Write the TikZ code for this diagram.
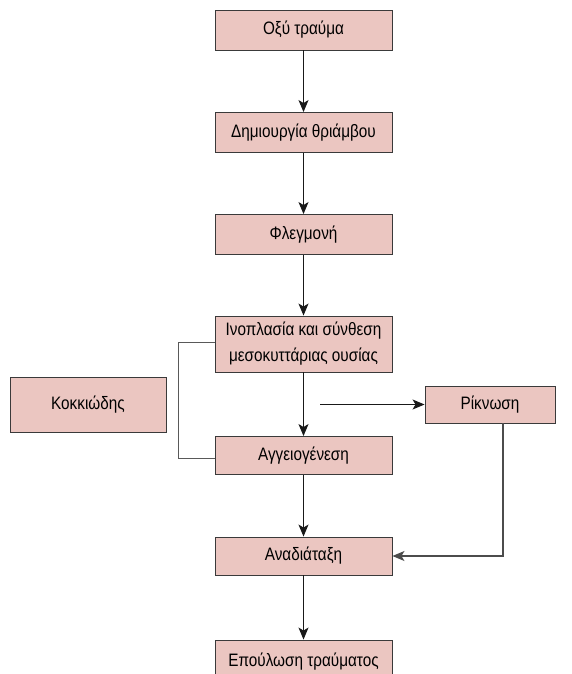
\documentclass[tikz,border=0pt]{standalone}
\usepackage{fontspec}
\setmainfont[FakeStretch=0.85]{Liberation Sans}
\usetikzlibrary{arrows.meta}
\definecolor{boxfill}{HTML}{EBC6C1}
\definecolor{boxline}{HTML}{3A3A3A}
\tikzset{
  stepbox/.style={draw=boxline, line width=0.9pt, fill=boxfill, minimum width=177pt, inner sep=0pt, font=\fontsize{18}{26}\selectfont, align=center},
  conn/.style={line width=1.1pt, draw=black!90, -{Stealth[length=12pt,width=10pt,inset=3pt]}},
  side/.style={line width=1pt, draw=black!65}
}
\begin{document}
\begin{tikzpicture}[x=1pt,y=-1pt]
\useasboundingbox (0,0) rectangle (571,674);
\clip (0,0) rectangle (571,674);
\node[stepbox, minimum height=40pt] (a) at (303.5,30) {Οξύ τραύμα};
\node[stepbox, minimum height=40pt] (b) at (303.5,132.5) {Δημιουργία θριάμβου};
\node[stepbox, minimum height=40pt] (c) at (303.5,234.5) {Φλεγμονή};
\node[stepbox, minimum height=56pt] (d) at (303.5,344) {Ινοπλασία και σύνθεση\\μεσοκυττάριας ουσίας};
\node[stepbox, minimum height=38pt] (e) at (303.5,455.5) {Αγγειογένεση};
\node[stepbox, minimum height=38pt] (f) at (303.5,556) {Αναδιάταξη};
\node[stepbox, minimum height=44pt] (g) at (303.5,662) {Επούλωση τραύματος};
\node[stepbox, minimum width=156pt, minimum height=55pt] (k) at (88,404.5) {Κοκκιώδης};
\node[stepbox, minimum width=130pt, minimum height=37pt] (r) at (490,404.5) {Ρίκνωση};
\coordinate (h) at (320,404.5);
\coordinate (bl1) at (178,342);
\coordinate (bl2) at (178,458);
\coordinate (rc) at (503,556);
\draw[conn] (a) -- (b);
\draw[conn] (b) -- (c);
\draw[conn] (c) -- (d);
\draw[conn] (d) -- (e);
\draw[conn] (e) -- (f);
\draw[conn] (f) -- (g);
\draw[conn] (h) -- (r);
\draw[side] (d.west |- bl1) -- (bl1) -- (bl2) -- (e.west |- bl2);
\draw[conn, draw=black!70] (r.south -| rc) -- (rc) -- (f.east |- rc);
\end{tikzpicture}
\end{document}
